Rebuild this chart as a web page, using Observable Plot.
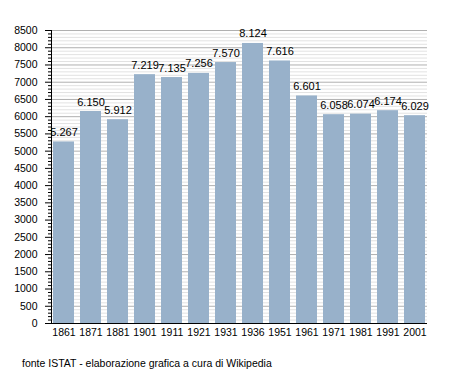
<!DOCTYPE html>
<html>
<head>
<meta charset="utf-8">
<script src="https://cdn.jsdelivr.net/npm/d3@7"></script>
<script src="https://cdn.jsdelivr.net/npm/@observablehq/plot@0.6"></script>
<style>
  body { margin: 0; background: #fff; font-family: "Liberation Sans", Arial, sans-serif; }
  #caption { position: absolute; left: 22px; top: 357px; font-size: 10.5px; color: #000; }
</style>
</head>
<body>
<div id="chart"></div>
<div id="caption">fonte ISTAT - elaborazione grafica a cura di Wikipedia</div>
<script>
const years = ["1861","1871","1881","1901","1911","1921","1931","1936","1951","1961","1971","1981","1991","2001"];
const population = [5267, 6150, 5912, 7219, 7135, 7256, 7570, 8124, 7616, 6601, 6058, 6074, 6174, 6029];
const majorTicks = [0,500,1000,1500,2000,2500,3000,3500,4000,4500,5000,5500,6000,6500,7000,7500,8000,8500];
const minorTicks = d3.range(0, 8501, 100).filter(v => v % 500 !== 0);

const data = years.map((y, i) => ({year: y, value: population[i]}));
const it = d3.formatLocale({decimal: ",", thousands: ".", grouping: [3], currency: ["", ""]});
const fmt = it.format(",");

const chart = Plot.plot({
  width: 455,
  height: 345,
  marginTop: 30,
  marginBottom: 22,
  marginLeft: 51,
  marginRight: 28,
  style: {fontFamily: "Liberation Sans, Arial, sans-serif", fontSize: "10.5px", color: "#000", background: "#fff"},
  x: {domain: years, paddingInner: 0.24, paddingOuter: 0.04, label: null},
  y: {domain: [0, 8500], label: null},
  marks: [
    Plot.ruleY(minorTicks, {stroke: "#e2e2e2", strokeOpacity: 1}),
    Plot.ruleY(majorTicks, {stroke: "#b0b0b0", strokeOpacity: 1}),
    Plot.barY(data, {x: "year", y: "value", fill: "#98b1ca"}),
    Plot.text(data, {x: "year", y: "value", text: d => fmt(d.value), dy: -6, lineAnchor: "bottom", fill: "#000", fontSize: 11}),
    Plot.axisY({ticks: majorTicks, tickSize: 6, tickPadding: 8, tickFormat: d => String(d), label: null}),
    Plot.axisY({ticks: minorTicks, tickSize: 3, tickFormat: null, text: null, label: null}),
    Plot.axisX({tickSize: 0, tickPadding: 5, label: null}),
    Plot.ruleY([0], {stroke: "#000", strokeWidth: 1}),
    Plot.frame({anchor: "left", stroke: "#000"})
  ]
});
document.getElementById("chart").appendChild(chart);
</script>
</body>
</html>
